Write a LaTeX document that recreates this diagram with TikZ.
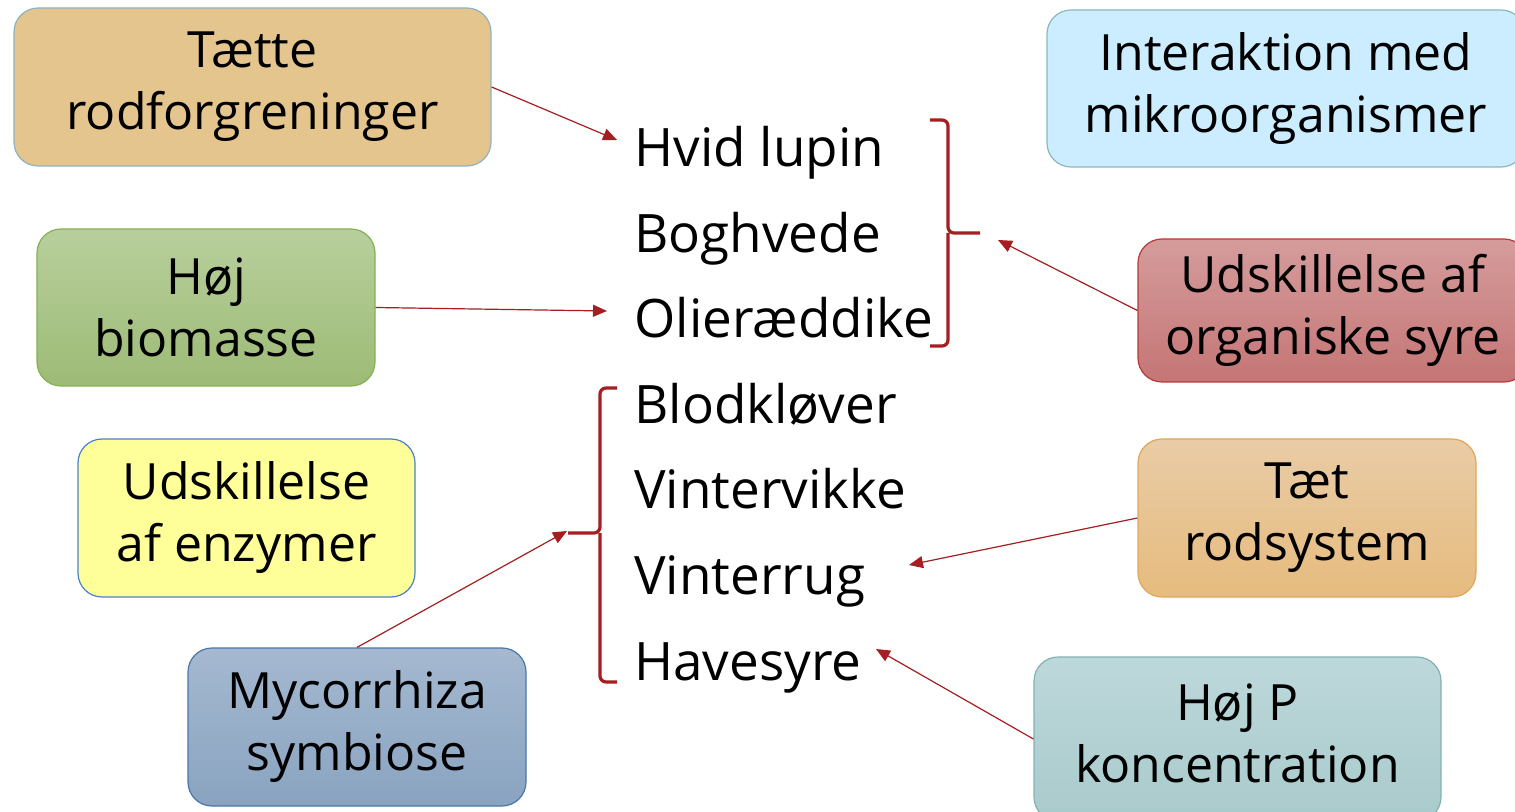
\documentclass[tikz,border=0pt]{standalone}
\usepackage{fontspec}
\setmainfont{Open Sans}
\usetikzlibrary{arrows.meta}
\definecolor{Brace}{HTML}{A41E22}
\definecolor{Tan}{HTML}{E5C58E}
\definecolor{TanRule}{HTML}{8FB3BE}
\definecolor{GreenTop}{HTML}{B8CF9C}
\definecolor{GreenBot}{HTML}{9DBB76}
\definecolor{GreenRule}{HTML}{86B056}
\definecolor{Lemon}{HTML}{FFFF99}
\definecolor{LemonRule}{HTML}{4A82C8}
\definecolor{SteelTop}{HTML}{A5B9D0}
\definecolor{SteelBot}{HTML}{89A3C0}
\definecolor{SteelRule}{HTML}{4A77A8}
\definecolor{Sky}{HTML}{CCECFF}
\definecolor{SkyRule}{HTML}{8BB8C0}
\definecolor{RoseTop}{HTML}{D59C9C}
\definecolor{RoseBot}{HTML}{C57575}
\definecolor{RoseRule}{HTML}{B53A3A}
\definecolor{SandTop}{HTML}{E9CCA6}
\definecolor{SandBot}{HTML}{E6BB7E}
\definecolor{SandRule}{HTML}{E0A85A}
\definecolor{SeaTop}{HTML}{BDD8DA}
\definecolor{SeaBot}{HTML}{A9CACB}
\definecolor{SeaRule}{HTML}{84B2B4}

\begin{document}
\begin{tikzpicture}[x=0.5pt,y=-0.5pt,
    card/.style={rounded corners=12pt,align=center,inner sep=0pt,line width=0.6pt,
      font=\fontsize{25}{31}\selectfont},
    plant/.style={anchor=base west,inner sep=0pt,font=\fontsize{26.5}{31}\selectfont},
    brace/.style={draw=Brace,line width=1.6pt,rounded corners=3pt},
    link/.style={draw=Brace,line width=0.6pt,-{Triangle[length=7pt,width=6pt]}}]
  \useasboundingbox (0,0) rectangle (1515,812);
  \clip (0,0) rectangle (1515,812);
  \fill[white] (0,0) rectangle (1515,812);

  % boxes on the left
  \node[card,fill=Tan,draw=TanRule,minimum width=238.5pt,minimum height=79pt]
    (taette) at (252.5,87) {Tætte\\rodforgreninger};
  \node[card,top color=GreenTop,bottom color=GreenBot,draw=GreenRule,minimum width=169pt,minimum height=78.5pt]
    (biomasse) at (206,307.5) {Høj\\biomasse};
  \node[card,fill=Lemon,draw=LemonRule,minimum width=168.5pt,minimum height=79pt]
    (enzymer) at (246.5,518) {Udskillelse\\af enzymer};
  \node[card,top color=SteelTop,bottom color=SteelBot,draw=SteelRule,minimum width=169pt,minimum height=79pt]
    (mycorrhiza) at (357,727) {Mycorrhiza\\symbiose};

  % boxes on the right
  \node[card,fill=Sky,draw=SkyRule,minimum width=239pt,minimum height=78.5pt]
    (interaktion) at (1286,88.5) {Interaktion med\\mikroorganismer};
  \node[card,top color=RoseTop,bottom color=RoseBot,draw=RoseRule,minimum width=195pt,minimum height=71.5pt]
    (syre) at (1333,310.5) {Udskillelse af\\organiske syre};
  \node[card,top color=SandTop,bottom color=SandBot,draw=SandRule,minimum width=169pt,minimum height=79pt]
    (taet) at (1307,518) {Tæt\\rodsystem};
  \node[card,top color=SeaTop,bottom color=SeaBot,draw=SeaRule,minimum width=203.5pt,minimum height=82pt]
    (hoejp) at (1237.5,739) {\raisebox{3pt}{\strut}Høj P\\koncentration\raisebox{-3pt}{\strut}};

  % plant list
  \foreach \nm/\txt/\i in {hvid/Hvid lupin/0,boghvede/Boghvede/1,olie/Olieræddike/2,
      blodklover/Blodkløver/3,vintervikke/Vintervikke/4,vinterrug/Vinterrug/5,havesyre/Havesyre/6}
    \node[plant] (\nm) at (634,167+85.5*\i) {\txt};

  % braces
  \draw[brace] (930,120) -- (948,120) -- (948,233) -- (980,233)
    (948,233) -- (948,346) -- (930,346);
  \draw[brace] (617,388) -- (600,388) -- (600,533) -- (568,533)
    (600,533) -- (600,682) -- (617,682);

  % arrow ends
  \coordinate (hvidpil) at (617,140);
  \coordinate (oliepil) at (607,311);
  \coordinate (toppil) at (998,240);
  \coordinate (rugpil) at (909,565);
  \coordinate (syrepil) at (876,649);
  \coordinate (bundpil) at (567,531);

  \draw[link] (taette.east) -- (hvidpil);
  \draw[link] (biomasse.east) -- (oliepil);
  \draw[link] (syre.west) -- (toppil);
  \draw[link] (taet.west) -- (rugpil);
  \draw[link] (hoejp.west) -- (syrepil);
  \draw[link] (mycorrhiza.north) -- (bundpil);
\end{tikzpicture}
\end{document}
